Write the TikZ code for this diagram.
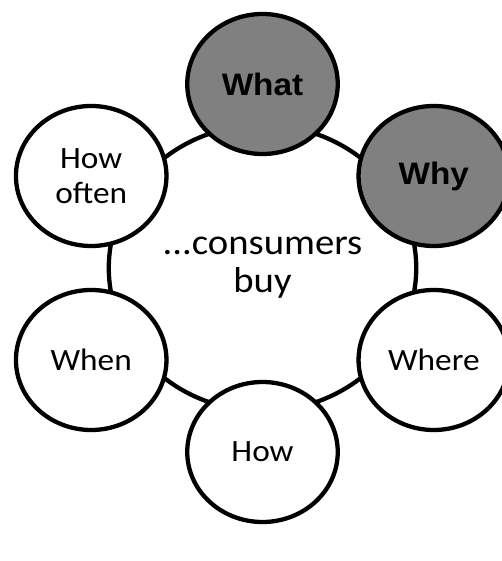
\documentclass[tikz,border=0pt]{standalone}
\usepackage{fontspec}
\setmainfont{Carlito}
\newfontfamily\arialfont{Liberation Sans}

\begin{document}
\begin{tikzpicture}[x=1pt,y=1pt,line width=4.3pt,
  bub/.style={circle,draw,fill=white,minimum size=140pt,inner sep=0pt,
    xscale=\s,align=center,font=\fontsize{31}{35}\selectfont},
  key/.style={bub,fill=black!50,font=\fontsize{31}{35}\selectfont\arialfont\bfseries}]

\def\R{184}
\def\s{1.075}

\useasboundingbox (0,0) rectangle (502,561);
\clip (0,0) rectangle (502,561);

% the ring with the centre text
\node[circle,draw,minimum size=286pt,inner sep=0pt,xscale=\s,align=center,
  font=\fontsize{36}{38}\selectfont] (buy) at (262.5,293) {...consumers\\buy};

\begin{scope}[shift={(262.5,293)},xscale=\s]
\node[key] (what)  at (90:\R)  {What};
\node[key] (why)   at (30:\R)  {Why};
\node[bub] (where) at (-30:\R) {Where};
\node[bub] (how)   at (-90:\R) {How};
\node[bub] (when)  at (210:\R) {When};
\node[bub] (often) at (150:\R) {How\\often};
\end{scope}

\end{tikzpicture}
\end{document}
